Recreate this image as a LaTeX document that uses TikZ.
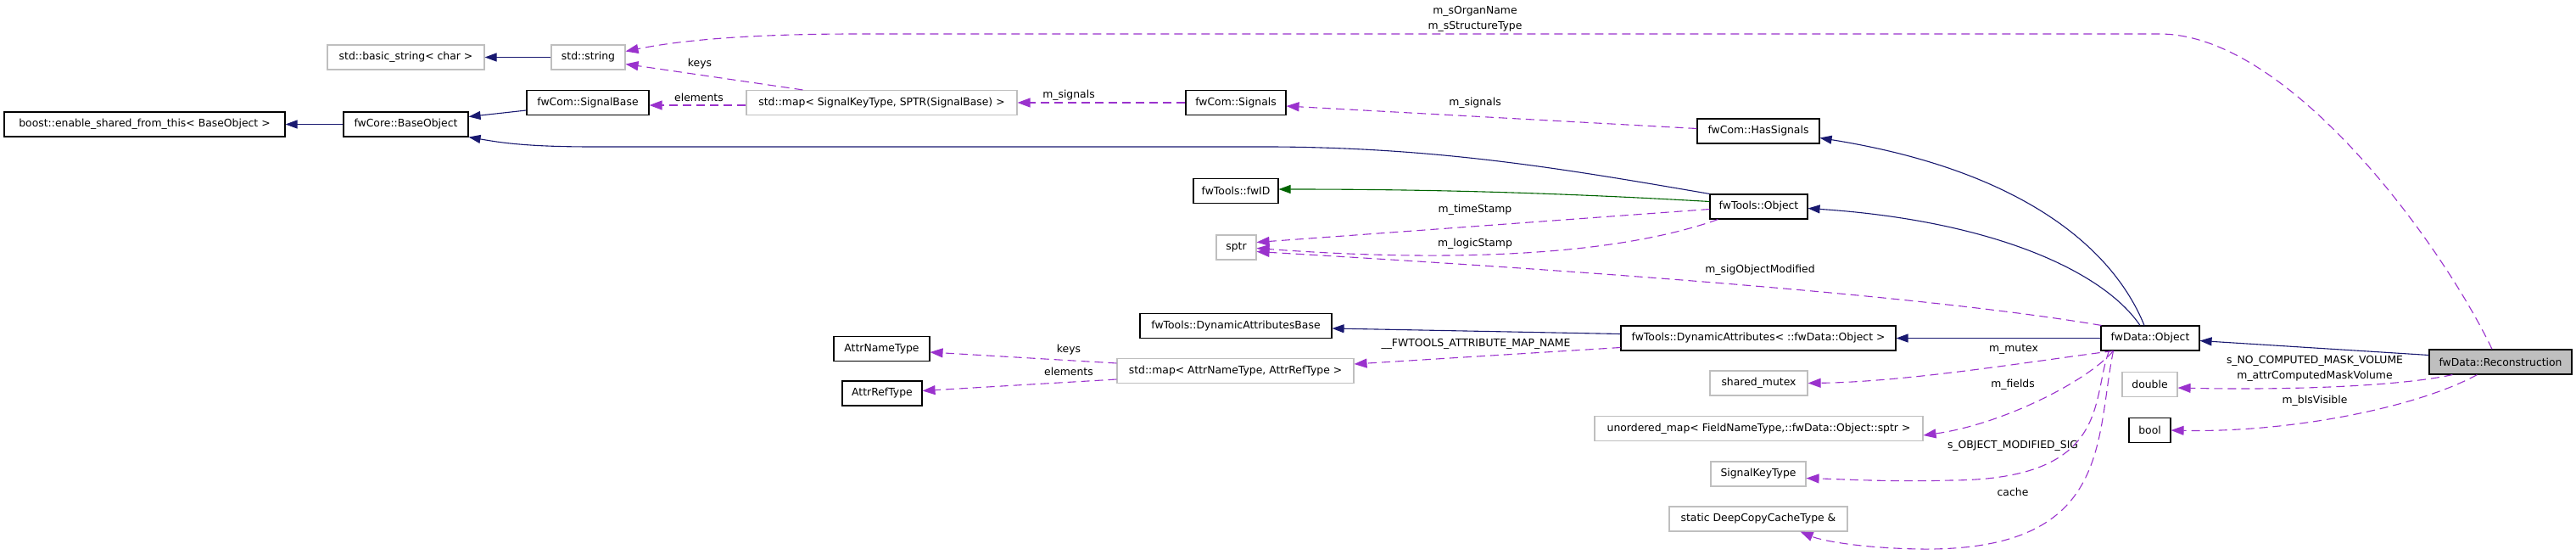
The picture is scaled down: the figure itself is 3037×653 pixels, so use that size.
\documentclass[tikz,border=0pt]{standalone}
\usepackage{fontspec}
\newfontfamily\dejavu{DejaVu Sans}
\usetikzlibrary{arrows.meta,calc}
\definecolor{inhcol}{HTML}{191970}
\definecolor{usecol}{HTML}{9A32CD}
\definecolor{tplcol}{HTML}{006400}
\definecolor{extcol}{HTML}{BFBFBF}

\begin{document}
\begin{tikzpicture}[x=1pt,y=-1pt,
  cls/.style={draw=black,line width=1.1pt,fill=white,minimum height=29pt,inner sep=0pt,font=\dejavu\fontsize{12.4}{14}\selectfont},
  ext/.style={cls,draw=extcol},
  lbl/.style={inner sep=0pt,font=\dejavu\fontsize{12.4}{14}\selectfont},
  inh/.style={draw=inhcol,line width=1.1pt,-{Triangle[length=14pt,width=10pt]}},
  tpl/.style={inh,draw=tplcol},
  use/.style={draw=usecol,line width=1.1pt,dash pattern=on 10pt off 6pt,-{Triangle[length=15pt,width=11pt]}}]
\useasboundingbox (0,0) rectangle (3037,653);
\node[cls,minimum width=331pt] (boost) at (170.5,146.5) {boost::enable\_shared\_from\_this< BaseObject >};
\node[cls,minimum width=147pt] (bobj) at (478.5,146.5) {fwCore::BaseObject};
\node[ext,minimum width=185pt] (bstr) at (478.5,67.5) {std::basic\_string< char >};
\node[ext,minimum width=87pt] (str) at (693.5,67.5) {std::string};
\node[cls,minimum width=144pt] (sigbase) at (693,121) {fwCom::SignalBase};
\node[ext,minimum width=319pt] (sigmap) at (1039.5,121) {std::map< SignalKeyType, SPTR(SignalBase) >};
\node[cls,minimum width=118pt] (signals) at (1457,121) {fwCom::Signals};
\node[cls,minimum width=144pt] (hassig) at (2073,154.5) {fwCom::HasSignals};
\node[cls,minimum width=100pt] (fwid) at (1457,225) {fwTools::fwID};
\node[cls,minimum width=115pt] (toolsobj) at (2073.5,243.5) {fwTools::Object};
\node[ext,minimum width=47pt] (sptr) at (1457.5,291.5) {sptr};
\node[cls,minimum width=226pt] (dynbase) at (1457,384) {fwTools::DynamicAttributesBase};
\node[cls,minimum width=113pt] (attrname) at (1039.5,411) {AttrNameType};
\node[cls,minimum width=94pt] (attrref) at (1040,463.5) {AttrRefType};
\node[ext,minimum width=279pt] (attrmap) at (1456.5,437) {std::map< AttrNameType, AttrRefType >};
\node[cls,minimum width=324pt] (dynattr) at (2073,398.5) {fwTools::DynamicAttributes< ::fwData::Object >};
\node[cls,minimum width=116pt] (dataobj) at (2535,398.5) {fwData::Object};
\node[ext,minimum width=115pt] (mutex) at (2073.5,451.5) {shared\_mutex};
\node[ext,minimum width=65pt] (dbl) at (2534.5,453) {double};
\node[cls,minimum width=49pt] (bool) at (2534.5,507) {bool};
\node[cls,fill=extcol,minimum width=168pt] (recon) at (2948,426.5) {fwData::Reconstruction};
\node[ext,minimum width=387pt] (fieldmap) at (2073.5,505) {unordered\_map< FieldNameType,::fwData::Object::sptr >};
\node[ext,minimum width=112pt] (sigkey) at (2073,558.5) {SignalKeyType};
\node[ext,minimum width=210pt] (cache) at (2073,611.5) {static DeepCopyCacheType \&};
\node[lbl] (lorgan) at (1739,13) {m\_sOrganName};
\node[lbl] (lstruct) at (1739,31) {m\_sStructureType};
\node[lbl] (lkeysa) at (825,75) {keys};
\node[lbl] (lelemsa) at (824,115) {elements};
\node[lbl] (lsigsa) at (1260,112) {m\_signals};
\node[lbl] (lsigsb) at (1739,121) {m\_signals};
\node[lbl] (ltime) at (1739,247) {m\_timeStamp};
\node[lbl] (llogic) at (1739,287) {m\_logicStamp};
\node[lbl] (lsigmod) at (2075,318) {m\_sigObjectModified};
\node[lbl] (lkeysb) at (1260,412) {keys};
\node[lbl] (lelemsb) at (1260,438) {elements};
\node[lbl] (lmapname) at (1740,405) {\_\_FWTOOLS\_ATTRIBUTE\_MAP\_NAME};
\node[lbl] (lmutex) at (2374,412) {m\_mutex};
\node[lbl] (lfields) at (2373,453) {m\_fields};
\node[lbl] (lmodsig) at (2373,525) {s\_OBJECT\_MODIFIED\_SIG};
\node[lbl] (lcache) at (2373,580) {cache};
\node[lbl] (lnomask) at (2729,425) {s\_NO\_COMPUTED\_MASK\_VOLUME};
\node[lbl] (lmask) at (2729,443) {m\_attrComputedMaskVolume};
\node[lbl] (lvis) at (2729,472) {m\_bIsVisible};
\draw[inh] (bobj.west) -- (boost.east);
\draw[inh] ($(sigbase.west)+(0,9)$) -- ($(bobj.east)+(0,-9)$);
\draw[inh] (toolsobj.north west) .. controls (1850,200) and (1700,174) .. (1500,173) -- (700,173) .. controls (620,173) and (590,168) .. (bobj.south east);
\draw[inh] (str.west) -- (bstr.east);
\draw[use] ($(sigmap.north west)+(67,0)$) -- ($(str.east)+(0,8)$);
\draw[use] ($(sigmap.west)+(0,3)$) -- ($(sigbase.east)+(0,3)$);
\draw[use] (signals.west) -- (sigmap.east);
\draw[use] ($(hassig.west)+(0,-3)$) -- ($(signals.east)+(0,4)$);
\draw[inh] ($(dataobj.north)+(-7,0)$) .. controls (2490,290) and (2380,200) .. ($(hassig.east)+(0,8)$);
\draw[inh] ($(dataobj.north)+(-12,0)$) .. controls (2480,320) and (2350,260) .. ($(toolsobj.east)+(0,2)$);
\draw[tpl] ($(toolsobj.west)+(0,-6)$) .. controls (1850,228) and (1700,223) .. ($(fwid.east)+(0,-2)$);
\draw[use] ($(toolsobj.west)+(0,3)$) -- ($(sptr.east)+(0,-6)$);
\draw[use] ($(toolsobj.south west)+(10,0)$) .. controls (1880,310) and (1650,305) .. ($(sptr.east)+(0,1)$);
\draw[use] ($(dataobj.north west)+(1,0)$) .. controls (2250,345) and (1800,315) .. ($(sptr.east)+(0,5)$);
\draw[inh] ($(dynattr.west)+(0,-5)$) -- ($(dynbase.east)+(0,3)$);
\draw[inh] (dataobj.west) -- (dynattr.east);
\draw[use] ($(attrmap.west)+(0,-9)$) -- ($(attrname.east)+(0,4)$);
\draw[use] ($(attrmap.west)+(0,10)$) -- ($(attrref.east)+(0,-3)$);
\draw[use] ($(dynattr.west)+(0,11)$) -- ($(attrmap.east)+(0,-8)$);
\draw[use] ($(dataobj.south west)+(15,0)$) .. controls (2400,425) and (2250,450) .. (mutex.east);
\draw[use] ($(dataobj.south west)+(15,0)$) .. controls (2460,450) and (2360,500) .. ($(fieldmap.east)+(0,8)$);
\draw[use] ($(dataobj.south west)+(10,0)$) .. controls (2465,470) and (2490,565) .. (2300,566) .. controls (2230,568) and (2180,565) .. ($(sigkey.east)+(0,5)$);
\draw[use] ($(dataobj.south west)+(15,0)$) .. controls (2470,520) and (2490,650) .. (2263,647) .. controls (2200,646) and (2150,638) .. ($(cache.south east)+(-56,0)$);
\draw[inh] ($(recon.west)+(0,-8)$) -- ($(dataobj.east)+(0,3)$);
\draw[use] ($(recon.south west)+(28,0)$) .. controls (2830,455) and (2700,460) .. ($(dbl.east)+(0,4)$);
\draw[use] ($(recon.south west)+(57,0)$) .. controls (2850,480) and (2700,510) .. (bool.east);
\draw[use] ($(recon.north)+(-10,0)$) .. controls (2880,290) and (2700,40) .. (2546,40) -- (1010,40) .. controls (850,40) and (780,52) .. ($(str.east)+(0,-7)$);
\end{tikzpicture}
\end{document}
